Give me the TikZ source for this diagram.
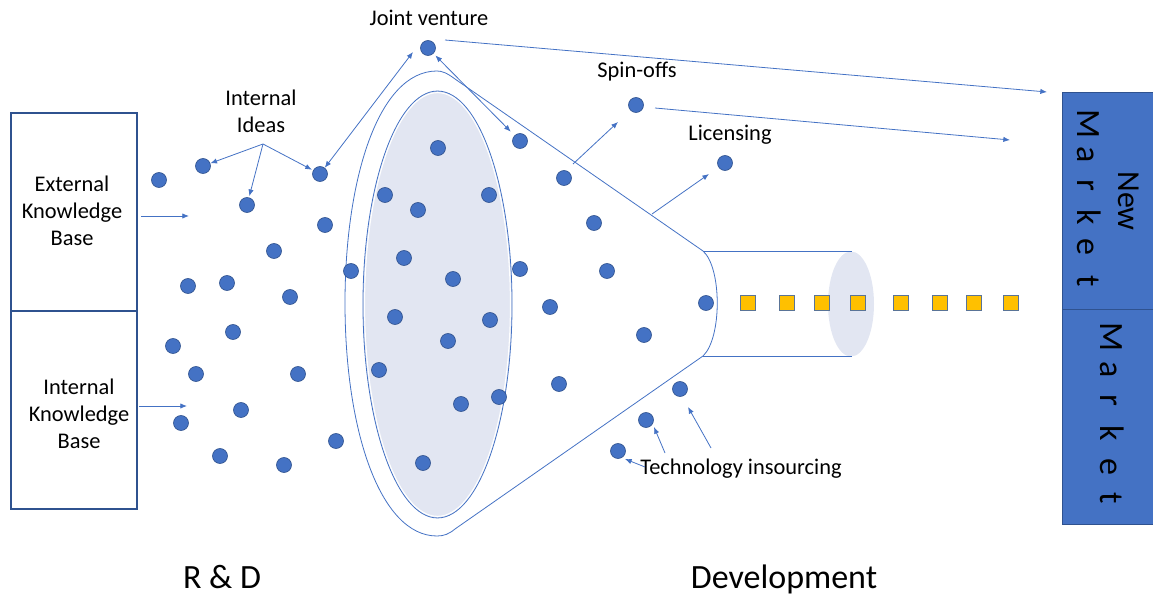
\documentclass[tikz,border=0pt]{standalone}
\usepackage{fontspec}
\setmainfont{Carlito}
\usetikzlibrary{arrows.meta}
\definecolor{lblue}{HTML}{4472C4}
\definecolor{dblue}{HTML}{2F528F}
\definecolor{efill}{HTML}{E2E6F2}
\definecolor{sqfill}{HTML}{FFC000}
\definecolor{sqdraw}{HTML}{5A7497}
\begin{document}
\begin{tikzpicture}[x=0.75pt,y=-0.75pt,
  dot/.style={circle, fill=lblue, draw=dblue, line width=0.5pt, minimum size=11.25pt, inner sep=0pt},
  sq/.style={rectangle, fill=sqfill, draw=sqdraw, line width=0.8pt, minimum size=11pt, inner sep=0pt},
  ln/.style={draw=lblue, line width=0.6pt},
  arr/.style={ln, -{Latex[length=5pt,width=4pt]}},
  arrb/.style={ln, {Latex[length=5pt,width=4pt]}-{Latex[length=5pt,width=4pt]}},
  kbox/.style={draw=dblue, line width=0.9pt, minimum width=94.5pt, minimum height=148.5pt, inner sep=0pt},
  mbox/.style={fill=lblue, draw=dblue, line width=0.6pt, minimum width=68.25pt, inner sep=0pt},
  lbl/.style={font=\fontsize{16.8}{20.25}\selectfont, align=center, inner sep=0pt},
  big/.style={font=\fontsize{25.5}{30}\selectfont, inner sep=0pt},
  mk/.style={font=\fontsize{25.5}{30}\selectfont, rotate=-90, anchor=base, inner sep=0pt}]
\useasboundingbox (0,0) rectangle (1153,595);

% knowledge boxes
\node[kbox] (ekb) at (74,212) {};
\node[kbox] (ikb) at (74,410) {};
\node[lbl] (ekbt) at (72,211) {External\\Knowledge\\Base};
\node[lbl] (ikbt) at (79,414) {Internal\\Knowledge\\Base};
\coordinate (ea0) at (141,216); \coordinate (ea1) at (189,216);
\coordinate (ia0) at (139,406); \coordinate (ia1) at (187,406);
\draw[arr] (ea0) -- (ea1);
\draw[arr] (ia0) -- (ia1);

% funnel
\draw[ln] (703,251) -- (455,79) .. controls (447,73) and (442,71) .. (437,71)
  .. controls (378,71) and (345,180) .. (345,303)
  .. controls (345,430) and (380,536) .. (437,536)
  .. controls (444,536) and (449,534) .. (455,529) -- (703,356)
  .. controls (722,338) and (722,268) .. (703,251);
\draw[draw=lblue, fill=efill, line width=0.6pt] (437.5,304.5) ellipse [x radius=55.9pt, y radius=160.1pt];
\draw[white, line width=0.8pt] (437.5,304.5) ellipse [x radius=54.7pt, y radius=158.9pt];

% cylinder
\fill[efill] (851,304) ellipse [x radius=17.25pt, y radius=39.4pt];
\draw[ln] (703,251) -- (852,251);
\draw[ln] (703,356) -- (852,356);

% market boxes
\node[mbox, minimum height=162.75pt] (nmb) at (1107.5,200.5) {};
\node[mbox, minimum height=161.25pt] (mb) at (1107.5,416.5) {};
\node[font=\fontsize{24}{28}\selectfont, rotate=-90, anchor=base, inner sep=0pt] (newt) at (1118,201) {New};
\foreach \l/\y [count=\i] in {M/124,a/155,r/185,k/217,e/247,t/281}
  \node[mk] (mt\i) at (1077,\y) {\l};
\foreach \l/\y [count=\i] in {M/337,a/370,r/400,k/433,e/467,t/498}
  \node[mk] (mm\i) at (1100,\y) {\l};

% dots
\foreach \n/\x/\y in {a1/159/180,a2/203/166,a3/247/205,a4/320/174,a5/325/225,a6/274/251,
  a7/188/286,a8/227/283,a9/290/297,a10/351/271,a11/173/346,a12/233/332,a13/196/374,
  a14/298/374,a15/241/410,a16/181/423,a17/220/456,a18/284/465,a19/336/441,
  b1/438/148,b2/385/195,b3/418/210,b4/489/195,b5/404/258,b6/453/279,b7/395/317,
  b8/490/320,b9/448/341,b10/379/370,b11/461/404,b12/499/397,b13/423/463,
  c1/520/141,c2/564/178,c3/594/223,c4/520/269,c5/607/271,c6/550/307,c7/706/303,
  c8/644/335,c9/559/384,c10/680/389,c11/646/420,c12/618/451,
  jv/428/48,so/636/105,li/725/163}
  \node[dot] (\n) at (\x,\y) {};

% squares
\foreach \x [count=\i] in {748,787,822,858,901,940,974,1011}
  \node[sq] (s\i) at (\x,303) {};

% labels
\node[lbl] (iit) at (261,111) {Internal\\Ideas};
\node[lbl, anchor=base] (jvt) at (429,26) {Joint venture};
\node[lbl, anchor=base] (sotx) at (637,78) {Spin-offs};
\node[lbl, anchor=base] (litx) at (730,141) {Licensing};
\node[lbl, anchor=base] (titx) at (741,474) {Technology insourcing};
\node[big, anchor=base] (rd) at (222,588) {R \& D};
\node[big, anchor=base] (dev) at (784,588) {Development};

% arrows
\coordinate (ii) at (263,144);
\draw[arr] (ii) -- (a2);
\draw[arr, shorten >=1pt] (ii) -- (a3);
\draw[arr, shorten >=1pt] (ii) -- (a4);
\coordinate (jvl) at (413,52);
\draw[arrb] (a4) -- (jvl);
\draw[arrb, shorten <=2pt, shorten >=4pt] (jv) -- (c1);
\coordinate (jvo) at (445,40); \coordinate (nmt) at (1047,92);
\draw[arr] (jvo) -- (nmt);
\coordinate (soo) at (655,108); \coordinate (sot) at (1010,140);
\draw[arr] (soo) -- (sot);
\coordinate (spa) at (573,164); \coordinate (spb) at (618,122);
\draw[arr] (spa) -- (spb);
\coordinate (lia) at (652,214); \coordinate (lib) at (709,174);
\draw[arr] (lia) -- (lib);
\coordinate (t1a) at (645,467); \coordinate (t1b) at (625,459);
\coordinate (t2a) at (665,453); \coordinate (t2b) at (654,427);
\coordinate (t3a) at (711,448); \coordinate (t3b) at (688,407);
\draw[arr] (t1a) -- (t1b);
\draw[arr] (t2a) -- (t2b);
\draw[arr] (t3a) -- (t3b);
\end{tikzpicture}
\end{document}
